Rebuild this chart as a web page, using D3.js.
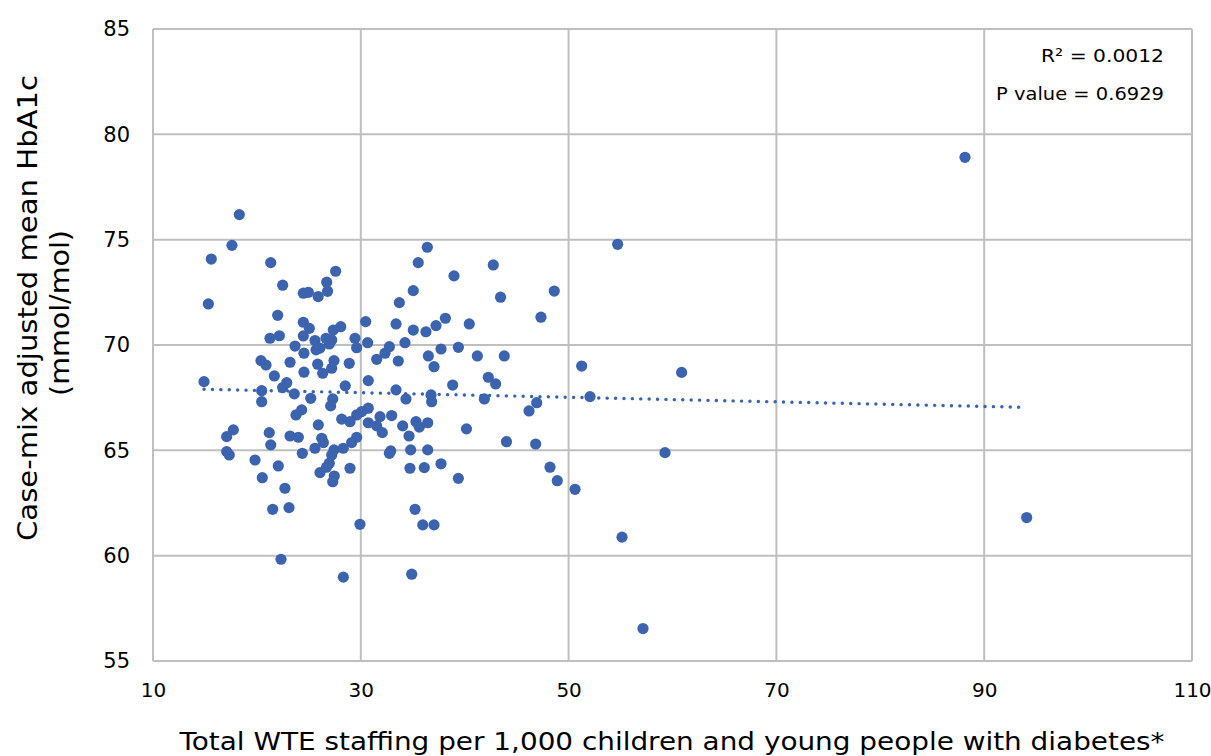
<!DOCTYPE html>
<html>
<head>
<meta charset="utf-8">
<script src="https://cdn.jsdelivr.net/npm/d3@7"></script>
<style>
  html, body { margin: 0; padding: 0; background: #fff; }
  svg { display: block; font-family: "DejaVu Sans", "Open Sans", sans-serif; }
</style>
</head>
<body>
<svg id="chart" width="1211" height="756"></svg>
<script>
// ---- data ----
const staffing = [
  18.31,17.60,15.61,21.33,27.58,22.48,26.72,24.47,24.95,25.90,26.80,15.33,22.00,24.47,25.05,28.07,27.35,30.47,
  21.26,22.16,23.67,24.47,25.59,26.65,27.20,25.69,26.07,26.97,29.44,30.66,29.60,24.53,20.39,20.88,23.19,25.85,
  27.42,27.20,28.89,26.33,24.53,31.53,21.68,30.72,14.91,22.87,22.48,28.50,20.46,23.60,25.18,27.30,27.10,20.46,
  24.31,23.76,30.72,30.09,29.60,28.16,28.96,30.72,31.53,25.91,17.73,17.09,21.19,21.33,23.19,23.99,26.24,26.40,
  29.60,29.12,17.09,17.34,25.59,24.37,27.42,27.20,28.31,19.82,22.06,26.97,28.96,
  26.70,20.52,26.07,27.45,27.30,22.70,21.52,23.09,29.92,22.32,28.32,
  36.40,35.53,42.75,38.97,35.05,48.62,43.45,33.71,47.34,38.14,33.39,37.24,40.44,35.05,36.27,
  34.25,32.75,32.33,33.61,36.50,37.72,39.39,41.22,43.81,37.05,42.27,42.98,38.84,33.39,34.35,36.76,36.82,41.89,
  46.93,46.19,31.85,32.97,34.03,35.31,35.63,36.44,32.07,34.64,40.17,44.02,46.83,32.88,32.75,34.80,36.44,34.73,
  36.11,37.72,48.21,
  39.39,48.91,35.22,35.96,37.05,34.90,
  54.72,51.26,60.88,52.06,59.28,50.62,55.14,57.16,88.15,94.09
];
const hba1c = [
  76.19,74.73,74.08,73.91,73.50,72.84,72.98,72.46,72.50,72.30,72.55,71.95,71.41,71.08,70.79,70.87,70.71,71.11,
  70.32,70.44,69.95,70.43,70.21,70.32,70.24,69.77,69.85,70.05,70.32,70.11,69.87,69.61,69.26,69.05,69.18,69.09,
  69.26,68.90,69.13,68.66,68.71,69.32,68.53,68.31,68.26,68.21,67.98,68.06,67.83,67.68,67.47,67.44,67.11,67.31,
  66.92,66.68,67.00,66.84,66.68,66.48,66.36,66.31,66.16,66.21,65.97,65.65,65.84,65.26,65.68,65.62,65.57,65.37,
  65.62,65.37,64.94,64.78,65.10,64.86,65.02,64.78,65.10,64.54,64.26,64.39,64.15,
  64.20,63.70,63.94,63.78,63.51,63.20,62.20,62.28,61.49,59.83,58.98,
  74.64,73.91,73.80,73.28,72.58,72.56,72.27,72.01,71.32,71.27,71.00,70.92,71.00,70.71,70.63,
  70.11,69.92,69.61,69.24,69.48,69.81,69.89,69.48,69.48,68.97,68.47,68.15,68.10,67.87,67.44,67.63,67.31,67.44,
  67.26,66.87,66.60,66.65,66.16,66.36,66.10,66.31,65.84,65.68,66.02,65.41,65.30,64.97,64.86,65.02,65.02,64.15,
  64.18,64.36,64.20,
  63.67,63.56,62.20,61.46,61.46,59.12,
  74.78,69.00,68.70,67.55,64.89,63.15,60.88,56.54,78.91,61.81
];
const trendX = [14.91, 94.09];
const trendY = [67.90, 67.04];
const xTicks = [10, 30, 50, 70, 90, 110];
const yTicks = [55, 60, 65, 70, 75, 80, 85];
const annotations = ["R\u00B2 = 0.0012", "P value = 0.6929"];
const xTitle = "Total WTE staffing per 1,000 children and young people with diabetes*";
const yTitleLines = ["Case-mix adjusted mean HbA1c", "(mmol/mol)"];

// ---- layout ----
const svg = d3.select("#chart");
const plot = { left: 153, right: 1192, top: 29, bottom: 661 };
const x = d3.scaleLinear().domain([10, 110]).range([plot.left, plot.right]);
const y = d3.scaleLinear().domain([55, 85]).range([plot.bottom, plot.top]);
const gridColor = "#bfbfbf";
const dotColor = "#3c63ae";
const font = "'DejaVu Sans', sans-serif";

// gridlines
svg.append("g").selectAll("line").data(xTicks).join("line")
  .attr("x1", d => x(d)).attr("x2", d => x(d))
  .attr("y1", plot.top).attr("y2", plot.bottom)
  .attr("stroke", gridColor).attr("stroke-width", 2);
svg.append("g").selectAll("line").data(yTicks).join("line")
  .attr("x1", plot.left).attr("x2", plot.right)
  .attr("y1", d => y(d)).attr("y2", d => y(d))
  .attr("stroke", gridColor).attr("stroke-width", 2);

// axes (labels only)
const xAxis = svg.append("g").attr("transform", `translate(0,${plot.bottom})`)
  .call(d3.axisBottom(x).tickValues(xTicks).tickSize(0).tickPadding(22));
xAxis.select(".domain").remove();
xAxis.selectAll("text").attr("font-size", 20).attr("fill", "#000")
  .attr("font-family", font);

const yAxis = svg.append("g").attr("transform", `translate(${plot.left},0)`)
  .call(d3.axisLeft(y).tickValues(yTicks).tickSize(0).tickPadding(23));
yAxis.select(".domain").remove();
yAxis.selectAll("text").attr("font-size", 21).attr("fill", "#000")
  .attr("font-family", font);

// trendline
const trend = trendX.map((v, i) => [v, trendY[i]]);
svg.append("path")
  .attr("d", d3.line().x(d => x(d[0])).y(d => y(d[1]))(trend))
  .attr("fill", "none").attr("stroke", dotColor)
  .attr("stroke-width", 3.4).attr("stroke-linecap", "round")
  .attr("stroke-dasharray", "0.1 8.3");

// points
const pts = staffing.map((v, i) => ({ x: v, y: hba1c[i] }));
svg.append("g").selectAll("circle").data(pts).join("circle")
  .attr("cx", d => x(d.x)).attr("cy", d => y(d.y)).attr("r", 5.6)
  .attr("fill", dotColor);

// annotation
const annLen = [123, 168];
svg.append("g").selectAll("text").data(annotations).join("text")
  .attr("x", 1164).attr("y", (d, i) => 62 + i * 38)
  .attr("text-anchor", "end").attr("font-size", 18).attr("fill", "#000")
  .attr("font-family", font)
  .attr("textLength", (d, i) => annLen[i]).attr("lengthAdjust", "spacingAndGlyphs")
  .text(d => d);

// axis titles
svg.append("text")
  .attr("x", 672).attr("y", 750)
  .attr("text-anchor", "middle").attr("font-size", 24).attr("fill", "#000")
  .attr("font-family", font)
  .attr("textLength", 985).attr("lengthAdjust", "spacingAndGlyphs")
  .text(xTitle);

const yLens = [466, 166];
svg.append("g").selectAll("text").data(yTitleLines).join("text")
  .attr("transform", (d, i) => `translate(${37 + i * 32}, ${i === 0 ? 308 : 313}) rotate(-90)`)
  .attr("text-anchor", "middle").attr("font-size", 26).attr("fill", "#000")
  .attr("font-family", font)
  .attr("textLength", (d, i) => yLens[i]).attr("lengthAdjust", "spacingAndGlyphs")
  .text(d => d);
</script>
</body>
</html>
